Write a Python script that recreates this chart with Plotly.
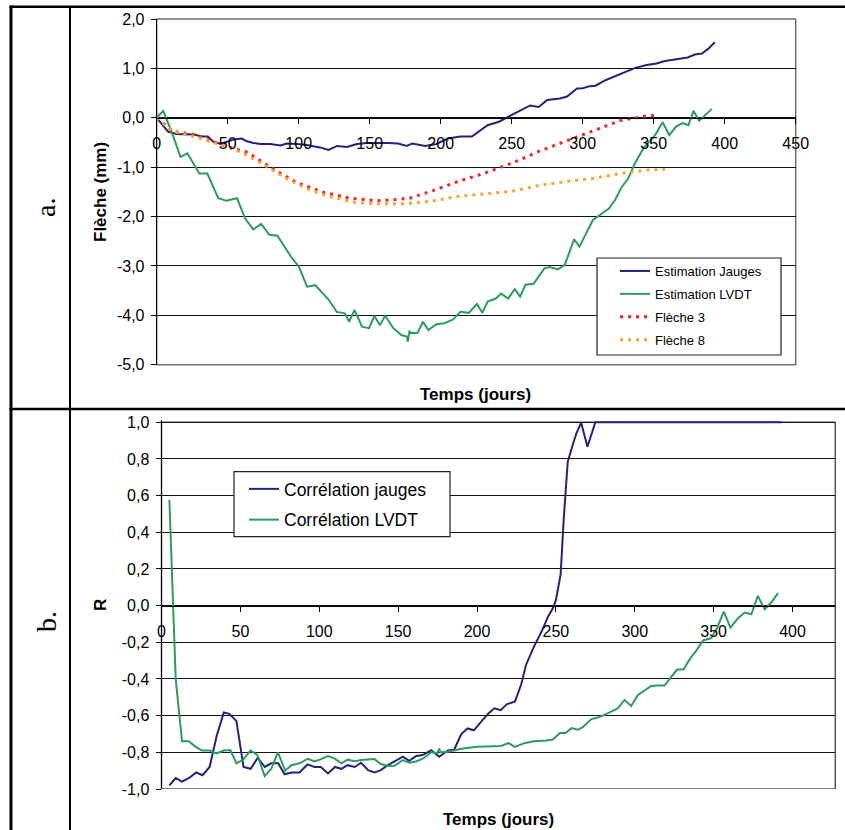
import plotly.graph_objects as go

W, H = 845, 830
def X(p): return p / W
def Y(p): return 1 - p / H

# ---------------- data: chart a. (Flèche) ----------------
jauges_x = [0, 8, 14, 26, 32, 36, 40, 45, 54, 60, 63, 68, 73, 80, 87, 91.5, 98.6, 105.6, 115, 121, 127,
            134, 141, 148, 163, 170, 176, 180, 189, 197, 205, 214, 222, 227, 233, 241, 248, 256, 263,
            269, 275, 284, 289, 296, 300, 305, 309, 316, 323, 330, 337, 345, 352, 358, 365, 374, 379,
            384, 388.5, 393]
jauges_y = [0.0, -0.28, -0.33, -0.34, -0.38, -0.38, -0.49, -0.53, -0.44, -0.42, -0.47, -0.51, -0.53,
            -0.53, -0.56, -0.52, -0.53, -0.55, -0.60, -0.65, -0.57, -0.59, -0.53, -0.51, -0.51, -0.52,
            -0.57, -0.52, -0.57, -0.53, -0.42, -0.38, -0.38, -0.28, -0.15, -0.08, 0.02, 0.14, 0.25,
            0.22, 0.36, 0.39, 0.43, 0.595, 0.60, 0.64, 0.65, 0.76, 0.84, 0.93, 1.01, 1.07, 1.10, 1.15,
            1.18, 1.22, 1.28, 1.30, 1.40, 1.53]

lvdt_x = [0, 4.6, 11, 16.7, 21.6, 30, 35.7, 43.3, 49, 56.6, 62.3, 68, 73.6, 79.3, 85, 94.5, 100.2,
          105.9, 111.6, 121, 126.8, 132.5, 135.5, 139.3, 144.6, 149.6, 153.3, 157.1, 160.9, 166.6,
          172.3, 176.1, 176.8, 178, 179.9, 183.7, 187.5, 191.3, 197, 202.7, 208.4, 214, 219.8, 225.5,
          229.3, 233.1, 238.8, 242.6, 247.5, 252.1, 255.9, 259.7, 265.4, 273, 276.8, 282.5, 287.4,
          293.9, 297.7, 307.2, 318.5, 322.7, 327.5, 332, 336.8, 342.7, 351, 356.3, 361, 365.7, 370.4,
          374.4, 378, 382, 391]
lvdt_y = [0.0, 0.14, -0.32, -0.79, -0.72, -1.13, -1.13, -1.63, -1.68, -1.63, -2.04, -2.26, -2.15,
          -2.37, -2.39, -2.81, -3.02, -3.42, -3.39, -3.68, -3.93, -3.96, -4.13, -3.89, -4.23, -4.26,
          -4.01, -4.20, -4.01, -4.26, -4.40, -4.43, -4.53, -4.33, -4.36, -4.36, -4.13, -4.30, -4.18,
          -4.16, -4.09, -3.93, -3.95, -3.77, -3.95, -3.72, -3.66, -3.56, -3.66, -3.47, -3.62, -3.38,
          -3.36, -3.05, -3.02, -3.07, -2.98, -2.46, -2.61, -2.07, -1.84, -1.67, -1.40, -1.23, -0.92,
          -0.62, -0.35, -0.09, -0.35, -0.18, -0.11, -0.15, 0.14, -0.06, 0.18]

fleche3_x = [0, 11, 26.2, 49, 64.1, 79.3, 98.3, 117.3, 136.3, 155.3, 166.6, 178, 193.2, 212.2,
             231.2, 250.1, 269.1, 288.1, 307.1, 326.1, 341.3, 353]
fleche3_y = [0.0, -0.27, -0.34, -0.58, -0.70, -0.99, -1.31, -1.51, -1.63, -1.68, -1.66, -1.63,
             -1.49, -1.29, -1.12, -0.92, -0.68, -0.47, -0.26, -0.06, 0.02, 0.055]

fleche8_x = [0, 11, 26.2, 49, 60.3, 75.5, 90.7, 105.9, 121, 140.2, 155.3, 174.3, 193.2, 212.2,
             231.2, 250.1, 269.1, 288.1, 307.1, 326.1, 345, 358]
fleche8_y = [0.0, -0.27, -0.38, -0.58, -0.71, -0.95, -1.22, -1.44, -1.59, -1.72, -1.74, -1.74,
             -1.69, -1.59, -1.54, -1.49, -1.37, -1.29, -1.23, -1.13, -1.06, -1.045]

# ---------------- data: chart b. (R) ----------------
corr_j_x = [5, 9, 13, 17.5, 22, 26, 30.5, 35, 39.5, 43, 47.5, 52, 56.5, 61, 65.5, 69.5, 74, 78,
            82.5, 87.5, 92.5, 97, 101, 105.5, 110, 114, 118, 122.5, 126.5, 131, 135, 139, 143.5,
            148, 153, 157, 161.5, 165.5, 171, 176, 181.5, 185.5, 190, 194, 198, 202.5, 207, 211,
            215, 219, 224, 228, 231, 236, 241, 245, 248, 250, 253, 255, 256.2, 257.5, 260, 263,
            266, 270, 275, 393]
corr_j_y = [-0.98, -0.94, -0.96, -0.94, -0.91, -0.925, -0.88, -0.71, -0.583, -0.59, -0.63, -0.88,
            -0.89, -0.83, -0.88, -0.86, -0.86, -0.92, -0.91, -0.91, -0.866, -0.88, -0.88, -0.915,
            -0.88, -0.89, -0.87, -0.88, -0.857, -0.897, -0.91, -0.897, -0.87, -0.848, -0.824,
            -0.846, -0.82, -0.815, -0.788, -0.824, -0.79, -0.786, -0.70, -0.67, -0.68, -0.634,
            -0.59, -0.56, -0.57, -0.537, -0.524, -0.43, -0.325, -0.225, -0.14, -0.06, -0.016, 0.03,
            0.17, 0.478, 0.649, 0.785, 0.858, 0.94, 0.997, 0.866, 1.0, 1.0]

corr_l_x = [5, 9, 13, 17.3, 21.7, 25.7, 30.6, 34.8, 39.4, 43.6, 47.5, 51.7, 56.5, 60.8, 65.4, 69.6,
            73.8, 78.4, 82.3, 87.5, 92.8, 97, 101, 105.5, 109.7, 114, 118, 122.4, 126.6, 130.8, 135,
            139, 143.5, 147.7, 153, 157, 161.4, 165.6, 171, 175, 176, 177, 181.4, 185.6, 190, 200,
            210, 215, 220, 224, 230, 236, 244, 248, 252.6, 256, 260, 264, 267, 272.5, 276.6, 280.9,
            285, 289.3, 293.5, 297.7, 302, 306.2, 310.4, 314.7, 318.9, 323, 326.7, 331, 334.8, 339,
            343.3, 348.5, 352.1, 356.4, 360.6, 365.4, 369.7, 373.9, 378, 382.3, 386.5, 390.8]
corr_l_y = [0.577, -0.40, -0.74, -0.74, -0.77, -0.79, -0.79, -0.806, -0.79, -0.788, -0.86, -0.84,
            -0.79, -0.815, -0.93, -0.89, -0.80, -0.90, -0.87, -0.86, -0.835, -0.85, -0.837, -0.82,
            -0.833, -0.86, -0.84, -0.848, -0.842, -0.84, -0.837, -0.864, -0.875, -0.873, -0.842,
            -0.857, -0.85, -0.835, -0.80, -0.804, -0.78, -0.80, -0.797, -0.79, -0.78, -0.77, -0.765,
            -0.765, -0.75, -0.77, -0.75, -0.74, -0.735, -0.73, -0.695, -0.695, -0.668, -0.677,
            -0.663, -0.619, -0.61, -0.596, -0.578, -0.56, -0.514, -0.547, -0.487, -0.463, -0.438,
            -0.436, -0.436, -0.39, -0.35, -0.347, -0.292, -0.245, -0.19, -0.178, -0.124, -0.033,
            -0.12, -0.069, -0.038, -0.047, 0.053, -0.02, 0.017, 0.068]

# ---------------- tick labels ----------------
a_yvals = [2, 1, 0, -1, -2, -3, -4, -5]
a_ylabels = ["2,0", "1,0", "0,0", "-1,0", "-2,0", "-3,0", "-4,0", "-5,0"]
a_xvals = [0, 50, 100, 150, 200, 250, 300, 350, 400, 450]
b_yvals = [1.0, 0.8, 0.6, 0.4, 0.2, 0.0, -0.2, -0.4, -0.6, -0.8, -1.0]
b_ylabels = ["1,0", "0,8", "0,6", "0,4", "0,2", "0,0", "-0,2", "-0,4", "-0,6", "-0,8", "-1,0"]
b_xvals = [0, 50, 100, 150, 200, 250, 300, 350, 400]

NAVY = "#232478"
GREEN = "#2E9A60"
RED = "#F2262A"
ORANGE = "#FFA033"
FONT = "Liberation Sans, Arial, sans-serif"

fig = go.Figure()
fig.add_trace(go.Scatter(x=jauges_x, y=jauges_y, name="Estimation Jauges", mode="lines",
                         line=dict(color=NAVY, width=2), xaxis="x", yaxis="y", legend="legend",
                         legendgroup="a1"))
fig.add_trace(go.Scatter(x=lvdt_x, y=lvdt_y, name="Estimation LVDT", mode="lines",
                         line=dict(color=GREEN, width=2), xaxis="x", yaxis="y", legend="legend",
                         legendgroup="a2"))
fig.add_trace(go.Scatter(x=fleche3_x, y=fleche3_y, name="Flèche 3", mode="lines",
                         line=dict(color=RED, width=3, dash="3px,5px"), xaxis="x", yaxis="y",
                         legend="legend", legendgroup="a3"))
fig.add_trace(go.Scatter(x=fleche8_x, y=fleche8_y, name="Flèche 8", mode="lines",
                         line=dict(color=ORANGE, width=3, dash="3px,5px"), xaxis="x", yaxis="y",
                         legend="legend", legendgroup="a4"))
fig.add_trace(go.Scatter(x=corr_j_x, y=corr_j_y, name="Corrélation jauges", mode="lines",
                         line=dict(color=NAVY, width=2), xaxis="x2", yaxis="y2", legend="legend2",
                         legendgroup="b1"))
fig.add_trace(go.Scatter(x=corr_l_x, y=corr_l_y, name="Corrélation LVDT", mode="lines",
                         line=dict(color=GREEN, width=2), xaxis="x2", yaxis="y2", legend="legend2",
                         legendgroup="b2"))

tickfont = dict(family=FONT, size=16, color="black")
common_x = dict(showgrid=False, zeroline=False, showline=True, linecolor="black", linewidth=1,
                ticks="outside", ticklen=5, tickcolor="black", tickfont=tickfont,
                anchor="free", ticklabelstandoff=6)
common_y = dict(showgrid=True, gridcolor="#111111", gridwidth=1, zeroline=False, showline=True,
                linecolor="black", linewidth=1, ticks="outside", ticklen=5, tickcolor="black",
                tickfont=tickfont, ticklabelstandoff=3)

fig.update_layout(
    autosize=True, margin=dict(l=0, r=0, t=0, b=0, autoexpand=False),
    paper_bgcolor="white", plot_bgcolor="white",
    font=dict(family=FONT, color="black"),
    xaxis=dict(domain=[X(156.7), X(795.7)], range=[0, 450], tickvals=a_xvals,
               position=Y(117.7), **common_x),
    yaxis=dict(domain=[Y(364.7), Y(19)], range=[-5, 2], tickvals=a_yvals, ticktext=a_ylabels,
               anchor="x", **common_y),
    xaxis2=dict(domain=[X(161.5), X(835.3)], range=[0, 427.1], tickvals=b_xvals,
                position=Y(605.7), **common_x),
    yaxis2=dict(domain=[Y(789), Y(420.4)], range=[-1, 1.01], tickvals=b_yvals, ticktext=b_ylabels,
                anchor="x2", **common_y),
    legend=dict(x=X(615), y=Y(256), xanchor="left", yanchor="top", bgcolor="rgba(0,0,0,0)",
                borderwidth=0, font=dict(family=FONT, size=13), tracegroupgap=3),
    legend2=dict(x=X(244), y=Y(471), xanchor="left", yanchor="top", bgcolor="rgba(0,0,0,0)",
                 borderwidth=0, font=dict(family=FONT, size=17.5), tracegroupgap=5),
    showlegend=True,
)

shapes = [
    # plot frames
    dict(type="rect", xref="x domain", yref="y domain", x0=0, x1=1, y0=0, y1=1,
         line=dict(color="#6e6e6e", width=1.5), layer="below"),
    dict(type="rect", xref="x2 domain", yref="y2", x0=0, x1=1, y0=-1, y1=1,
         line=dict(color="#555555", width=1.5), layer="below"),
    # legend boxes
    dict(type="rect", xref="paper", yref="paper", x0=X(597), x1=X(781), y0=Y(355), y1=Y(258),
         line=dict(color="#222222", width=1.2), fillcolor="white", layer="above"),
    dict(type="rect", xref="paper", yref="paper", x0=X(234), x1=X(450), y0=Y(536.7), y1=Y(471.7),
         line=dict(color="#222222", width=1.2), fillcolor="white", layer="above"),
    # table lines
    dict(type="line", xref="paper", yref="paper", x0=X(11), x1=X(11), y0=Y(5.5), y1=0,
         line=dict(color="black", width=3)),
    dict(type="line", xref="paper", yref="paper", x0=X(9.5), x1=1, y0=Y(6.7), y1=Y(6.7),
         line=dict(color="black", width=2.5)),
    dict(type="line", xref="paper", yref="paper", x0=X(70), x1=X(70), y0=Y(6), y1=0,
         line=dict(color="black", width=2)),
    dict(type="line", xref="paper", yref="paper", x0=X(9.5), x1=1, y0=Y(409), y1=Y(409),
         line=dict(color="black", width=2.5)),
]
fig.update_layout(shapes=shapes)

ann = [
    dict(text="a.", x=X(46), y=Y(208), textangle=-90,
         font=dict(family="Liberation Serif, Times New Roman, serif", size=28)),
    dict(text="b.", x=X(46), y=Y(622), textangle=-90,
         font=dict(family="Liberation Serif, Times New Roman, serif", size=28)),
    dict(text="<b>Flèche (mm)</b>", x=X(100), y=Y(192), textangle=-90,
         font=dict(family=FONT, size=17)),
    dict(text="<b>R</b>", x=X(100), y=Y(605), textangle=-90, font=dict(family=FONT, size=17)),
    dict(text="<b>Temps (jours)</b>", x=X(476), y=Y(394), font=dict(family=FONT, size=17)),
    dict(text="<b>Temps (jours)</b>", x=X(498), y=Y(819), font=dict(family=FONT, size=17)),
]
for a in ann:
    a.update(xref="paper", yref="paper", showarrow=False, xanchor="center", yanchor="middle")
fig.update_layout(annotations=ann)

fig.write_html(
    "out.html",
    config={"displayModeBar": False, "responsive": False},
    default_width="845px; position:absolute; left:0px; top:0px",
    default_height="830px",
)
